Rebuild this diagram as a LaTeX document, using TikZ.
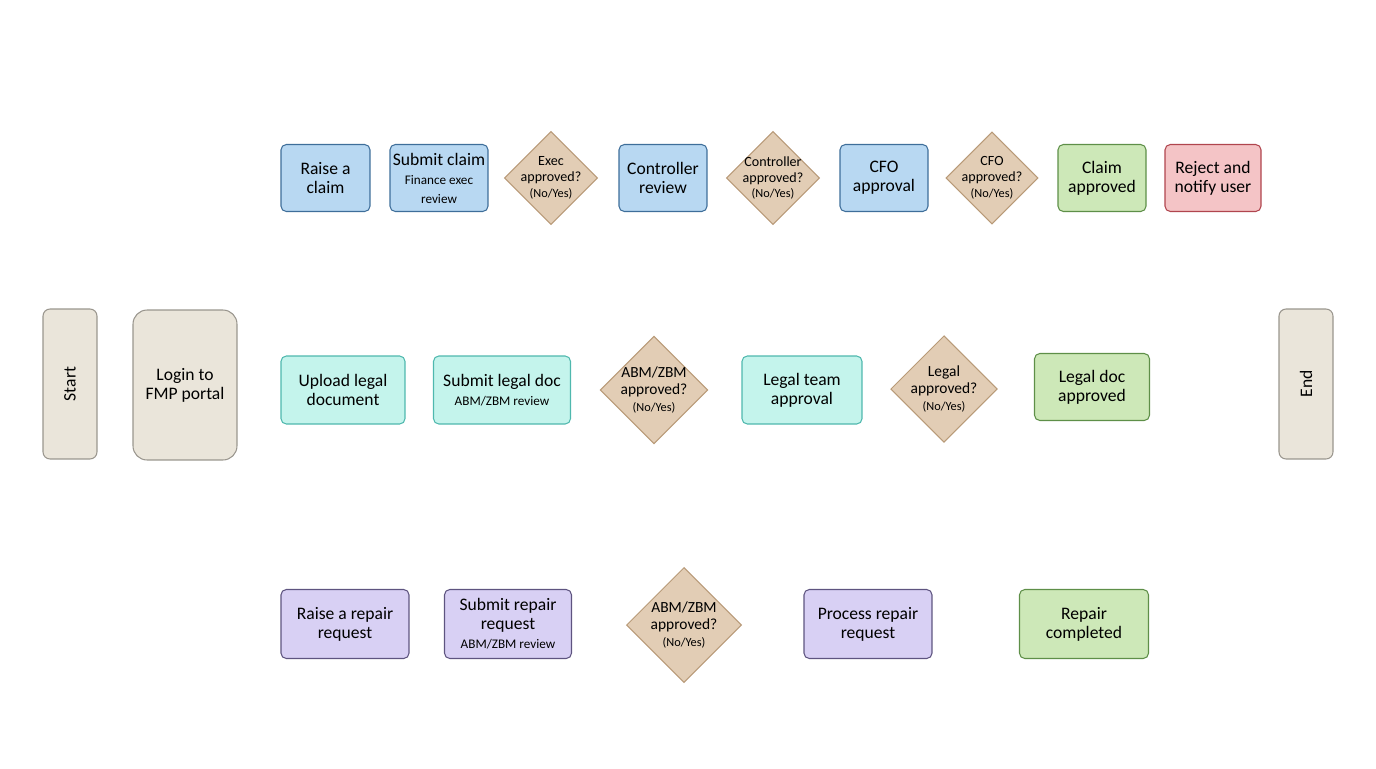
\documentclass[tikz,border=0pt]{standalone}
\usepackage{fontspec}
\setmainfont{Carlito}
\usetikzlibrary{shapes.geometric}
\definecolor{claimfill}{HTML}{B8D8F2}
\definecolor{claimline}{HTML}{3E6E9A}
\definecolor{legalfill}{HTML}{C4F4EC}
\definecolor{legalline}{HTML}{4FB8AE}
\definecolor{repairfill}{HTML}{D8D0F4}
\definecolor{repairline}{HTML}{5E5480}
\definecolor{okfill}{HTML}{CDE8B8}
\definecolor{okline}{HTML}{5E8F48}
\definecolor{nofill}{HTML}{F4C4C6}
\definecolor{noline}{HTML}{B0454E}
\definecolor{askfill}{HTML}{E2CDB5}
\definecolor{askline}{HTML}{B89A78}
\definecolor{termfill}{HTML}{EAE5DA}
\definecolor{termline}{HTML}{9A968E}
\newcommand{\subtxt}[1]{{\fontsize{7.5}{8.5}\selectfont #1}}
\newcommand{\yesno}{{\fontsize{7}{8}\selectfont (No/Yes)}}
\begin{document}
\begin{tikzpicture}[x=0.02cm, y=-0.02cm, font=\fontsize{10}{10.8}\selectfont,
	box/.style={rectangle, rounded corners=3pt, draw, line width=0.6pt, align=center, inner sep=0pt, minimum height=1.34cm},
	claim/.style={box, fill=claimfill, draw=claimline},
	legal/.style={box, fill=legalfill, draw=legalline},
	repair/.style={box, fill=repairfill, draw=repairline},
	done/.style={box, fill=okfill, draw=okline},
	reject/.style={box, fill=nofill, draw=noline},
	term/.style={box, fill=termfill, draw=termline, minimum width=1.08cm, minimum height=3cm, rounded corners=4pt},
	ask/.style={diamond, aspect=1, draw=askline, fill=askfill, line width=0.6pt, align=center, inner sep=-2.5pt, font=\fontsize{8}{9}\selectfont}]
	\useasboundingbox (0,0) rectangle (1376,768);
	% claim lane
	\node[claim, minimum width=1.78cm] (raise) at (325.5,178) {Raise a\\claim};
	\node[claim, minimum width=1.96cm] (submit) at (439,178) {Submit claim\\\subtxt{Finance exec}\\\subtxt{review}};
	\node[ask, minimum size=1.86cm] (execok) at (551,178) {Exec\\approved?\\\yesno};
	\node[claim, minimum width=1.76cm] (ctrl) at (663,178) {Controller\\review};
	\node[ask, minimum size=1.86cm] (ctrlok) at (773,178) {Controller\\approved?\\\yesno};
	\node[claim, minimum width=1.76cm] (cfo) at (884,178) {CFO\\approval};
	\node[ask, minimum size=1.84cm] (cfook) at (992,178) {CFO\\approved?\\\yesno};
	\node[done, minimum width=1.76cm] (claimok) at (1102,178) {Claim\\approved};
	\node[reject, minimum width=1.92cm] (notify) at (1213,178) {Reject and\\notify user};
	% entry and exit
	\node[term] (start) at (70,384) {\rotatebox{90}{Start}};
	\node[term, minimum width=2.08cm, rounded corners=8pt] (login) at (185,385) {Login to\\FMP portal};
	\node[term] (end) at (1306,384) {\rotatebox{90}{End}};
	% legal lane
	\node[legal, minimum width=2.48cm, minimum height=1.36cm] (upload) at (343,390) {Upload legal\\document};
	\node[legal, minimum width=2.74cm, minimum height=1.36cm] (sublegal) at (502,390) {Submit legal doc\\\subtxt{ABM/ZBM review}};
	\node[ask, minimum size=2.15cm, font=\fontsize{8.8}{9.8}\selectfont] (abmok) at (654,390) {ABM/ZBM\\approved?\\\yesno};
	\node[legal, minimum width=2.4cm, minimum height=1.36cm] (team) at (802,390) {Legal team\\approval};
	\node[ask, minimum size=2.13cm, font=\fontsize{8.8}{9.8}\selectfont] (legalok) at (944,389) {Legal\\approved?\\\yesno};
	\node[done, minimum width=2.3cm] (docok) at (1092,387) {Legal doc\\approved};
	% repair lane
	\node[repair, minimum width=2.56cm, minimum height=1.38cm] (rraise) at (345,624) {Raise a repair\\request};
	\node[repair, minimum width=2.54cm, minimum height=1.38cm] (rsubmit) at (508,624) {Submit repair\\request\\\subtxt{ABM/ZBM review}};
	\node[ask, minimum size=2.3cm, font=\fontsize{8.8}{9.8}\selectfont] (rabmok) at (684,625) {ABM/ZBM\\approved?\\\yesno};
	\node[repair, minimum width=2.56cm, minimum height=1.38cm] (process) at (868,624) {Process repair\\request};
	\node[done, minimum width=2.58cm, minimum height=1.38cm] (fixed) at (1084,624) {Repair\\completed};
\end{tikzpicture}
\end{document}
